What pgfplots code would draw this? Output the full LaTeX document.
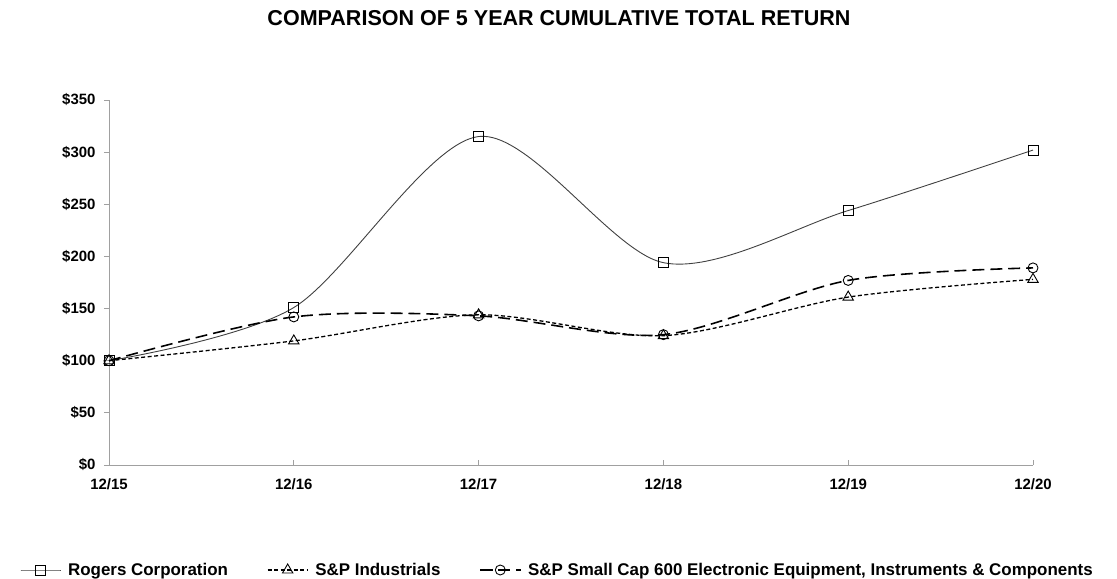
\documentclass[border=0pt]{standalone}
\usepackage{pgfplots}
\pgfplotsset{compat=1.18}
\usepackage{fontspec}
\setmainfont{Liberation Sans}

\definecolor{axisgray}{HTML}{A0A0A0}
\definecolor{rogline}{HTML}{404040}

\begin{document}
\begin{tikzpicture}
\path[use as bounding box] (-109bp,-114bp) rectangle (1008bp,465bp);
\begin{axis}[
    scale only axis,
    width=924bp, height=365bp,
    xmin=0, xmax=5,
    ymin=0, ymax=350,
    axis lines=left,
    axis line style={-, draw=axisgray, line width=1pt},
    every outer x axis line/.append style={-},
    every outer y axis line/.append style={-},
    xtick={0,1,2,3,4,5},
    xticklabels={12/15,12/16,12/17,12/18,12/19,12/20},
    ytick={0,50,100,150,200,250,300,350},
    yticklabels={\$0,\$50,\$100,\$150,\$200,\$250,\$300,\$350},
    major tick length=5bp,
    xtick align=inside,
    ytick align=outside,
    tick style={draw=axisgray, line width=0.8pt},
    ticklabel style={font=\fontsize{15}{18}\selectfont\bfseries},
    xticklabel style={yshift=-10bp},
    yticklabel style={xshift=-5bp},
    clip=false,
    legend columns=3,
    legend style={draw=none, fill=none, inner sep=0pt,
        at={([xshift=-89bp,yshift=-105bp]axis description cs:0,0)},
        anchor=west,
        font=\fontsize{17}{20}\selectfont\bfseries,
        /tikz/every odd column/.append style={column sep=5bp},
        /tikz/every even column/.append style={column sep=37bp}},
    legend image code/.code={
        \draw[mark repeat=2,mark phase=2] plot coordinates {(0bp,0bp)(20bp,0bp)(40bp,0bp)};},
]
\addplot[rogline, line width=0.9pt, smooth, mark=square, mark size=5bp,
    mark options={draw=black, solid, line width=0.9pt, fill=white}]
    coordinates {(0,100)(1,151)(2,315)(3,194)(4,244)(5,302)};
\addlegendentry{Rogers Corporation}
\addplot[black, line width=1.3pt, smooth, dash pattern=on 4pt off 2.5pt,
    mark=triangle, mark size=6bp,
    mark options={solid, line width=0.9pt, fill=white}]
    coordinates {(0,100)(1,119)(2,144)(3,124)(4,161)(5,178)};
\addlegendentry{S\&P Industrials}
\addplot[black, line width=1.6pt, smooth, dash pattern=on 12pt off 6pt,
    mark=o, mark size=5bp,
    mark options={solid, line width=0.9pt, fill=white}]
    coordinates {(0,100)(1,142)(2,143)(3,125)(4,177)(5,189)};
\addlegendentry{S\&P Small Cap 600 Electronic Equipment, Instruments \& Components}
\end{axis}
\node[font=\fontsize{21.6}{25}\selectfont\bfseries] at (450bp,447bp)
    {COMPARISON OF 5 YEAR CUMULATIVE TOTAL RETURN};
\end{tikzpicture}
\end{document}
